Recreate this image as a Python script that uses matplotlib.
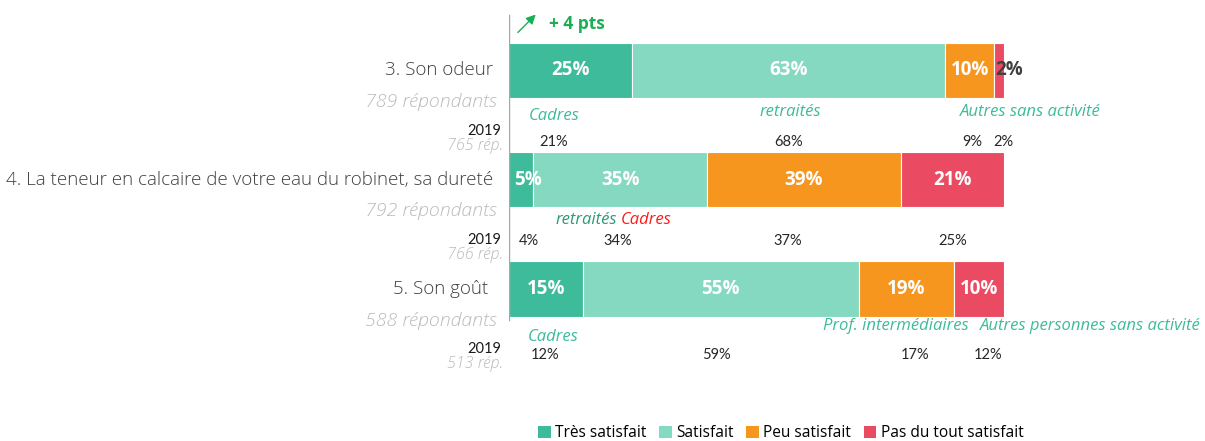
import matplotlib.pyplot as plt
from matplotlib.patches import Patch

# data
questions = ["3. Son odeur",
             "4. La teneur en calcaire de votre eau du robinet, sa dureté",
             "5. Son goût "]
respondents = ["789 répondants", "792 répondants", "588 répondants"]
resp_2019 = ["765 rép.", "766 rép.", "513 rép."]
categories = ["Très satisfait", "Satisfait", "Peu satisfait", "Pas du tout satisfait"]
# bar lengths as measured (labels below are the rounded figures printed on the chart)
values_2024 = [[24.9, 63.2, 9.9, 2.0],
               [4.9, 35.2, 39.0, 21.0],
               [14.9, 55.8, 19.2, 10.1]]
labels_2024 = [[25, 63, 10, 2],
               [5, 35, 39, 21],
               [15, 55, 19, 10]]
values_2019 = [[21, 68, 9, 2],
               [4, 34, 37, 25],
               [12, 59, 17, 12]]
colors = ["#3dbb9a", "#86d9c1", "#f7961f", "#eb4b62"]

# positions of the 2019 labels (percent axis)
x_2019 = [[9.1, 56.4, 93.5, 99.8],
          [4.0, 22.0, 56.4, 89.7],
          [7.3, 42.0, 82.0, 96.8]]

green_txt = "#3dbb9a"

fig = plt.figure(figsize=(12.05, 4.41), dpi=100)
ax = fig.add_axes([509 / 1205, 0, 495 / 1205, 1])
ax.set_xlim(0, 100)
ax.set_ylim(3.391, -0.645)
ax.axis("off")

rows = range(len(questions))
left = [0] * len(questions)
for j, cat in enumerate(categories):
    vals = [v[j] for v in values_2024]
    ax.barh(list(rows), vals, left=left, height=0.505, color=colors[j],
            edgecolor="white", linewidth=0.8)
    for i, v in enumerate(vals):
        cx = left[i] + v / 2
        col = "white"
        if v < 4:
            # too thin: label sits just right of the segment
            cx = left[i] + v + 1.1
            col = "#404040"
        elif v < 8:
            cx = left[i] + 3.8
        ax.text(cx, i, f"{labels_2024[i][j]}%", ha="center", va="center", color=col,
                fontsize=13.5, fontweight="bold", family="Open Sans")
    left = [l + v for l, v in zip(left, vals)]

# vertical axis line
ax.axvline(0, ymin=0.274, ymax=0.966, color="#a6a6a6", lw=1)

# left labels
for i in rows:
    ax.text(-3.2, i, questions[i], ha="right", va="center", fontsize=13.5,
            color="#404040", family="Open Sans", fontweight="light", clip_on=False)
    ax.text(-2.4, i + 0.29, respondents[i], ha="right", va="center", fontsize=14,
            color="#bababa", style="italic", family="Open Sans", fontweight="light",
            clip_on=False)
    ax.text(-1.6, i + 0.55, "2019", ha="right", va="center", fontsize=10.5,
            color="#1a1a1a", family="Lato", clip_on=False)
    ax.text(-1.2, i + 0.69, resp_2019[i], ha="right", va="center", fontsize=11.5,
            color="#bababa", style="italic", family="Open Sans", fontweight="light",
            clip_on=False)

# 2019 values
y_2019 = [0.654, 0.558, 0.60]
for i in rows:
    for v, x in zip(values_2019[i], x_2019[i]):
        ax.text(x, i + y_2019[i], f"{v}%", ha="center", va="center",
                fontsize=10.5, color="#262626", family="Lato", clip_on=False)

# italic sub-population labels
it = dict(style="italic", fontsize=12, family="Open Sans", va="center", clip_on=False)
ax.text(9.1, 0.42, "Cadres", ha="center", color=green_txt, **it)
ax.text(56.8, 0.38, "retraités", ha="center", color=green_txt, **it)
ax.text(105.3, 0.38, "Autres sans activité", ha="center", color=green_txt, **it)
ax.text(21.9, 1.37, "retraités", ha="right", color="#2a9a78", **it)
ax.text(22.5, 1.37, "Cadres", ha="left", color="#ff1a1a", **it)
ax.text(8.9, 2.44, "Cadres", ha="center", color=green_txt, **it)
ax.text(78.2, 2.34, "Prof. intermédiaires", ha="center", color=green_txt, **it)
ax.text(117.4, 2.34, "Autres personnes sans activité", ha="center", color=green_txt, **it)

# trend marker
ax.annotate("", xy=(5.8, -0.53), xytext=(1.4, -0.33),
            arrowprops=dict(arrowstyle="-|>", color="#1aaf54", lw=1, mutation_scale=14),
            annotation_clip=False)
ax.text(8.1, -0.426, "+ 4 pts", ha="left", va="center", fontsize=12.5,
        fontweight="bold", color="#1aaf54", family="Open Sans", clip_on=False)

handles = [Patch(facecolor=c, label=l) for c, l in zip(colors, categories)]
fig.legend(handles=handles, loc="center", bbox_to_anchor=(0.648, 0.018), ncol=4,
           frameon=False, handlelength=0.8, handleheight=0.8, handletextpad=0.3,
           columnspacing=0.8, prop={"family": "Open Sans", "size": 11.2})

fig.savefig("out.png", dpi=100)
